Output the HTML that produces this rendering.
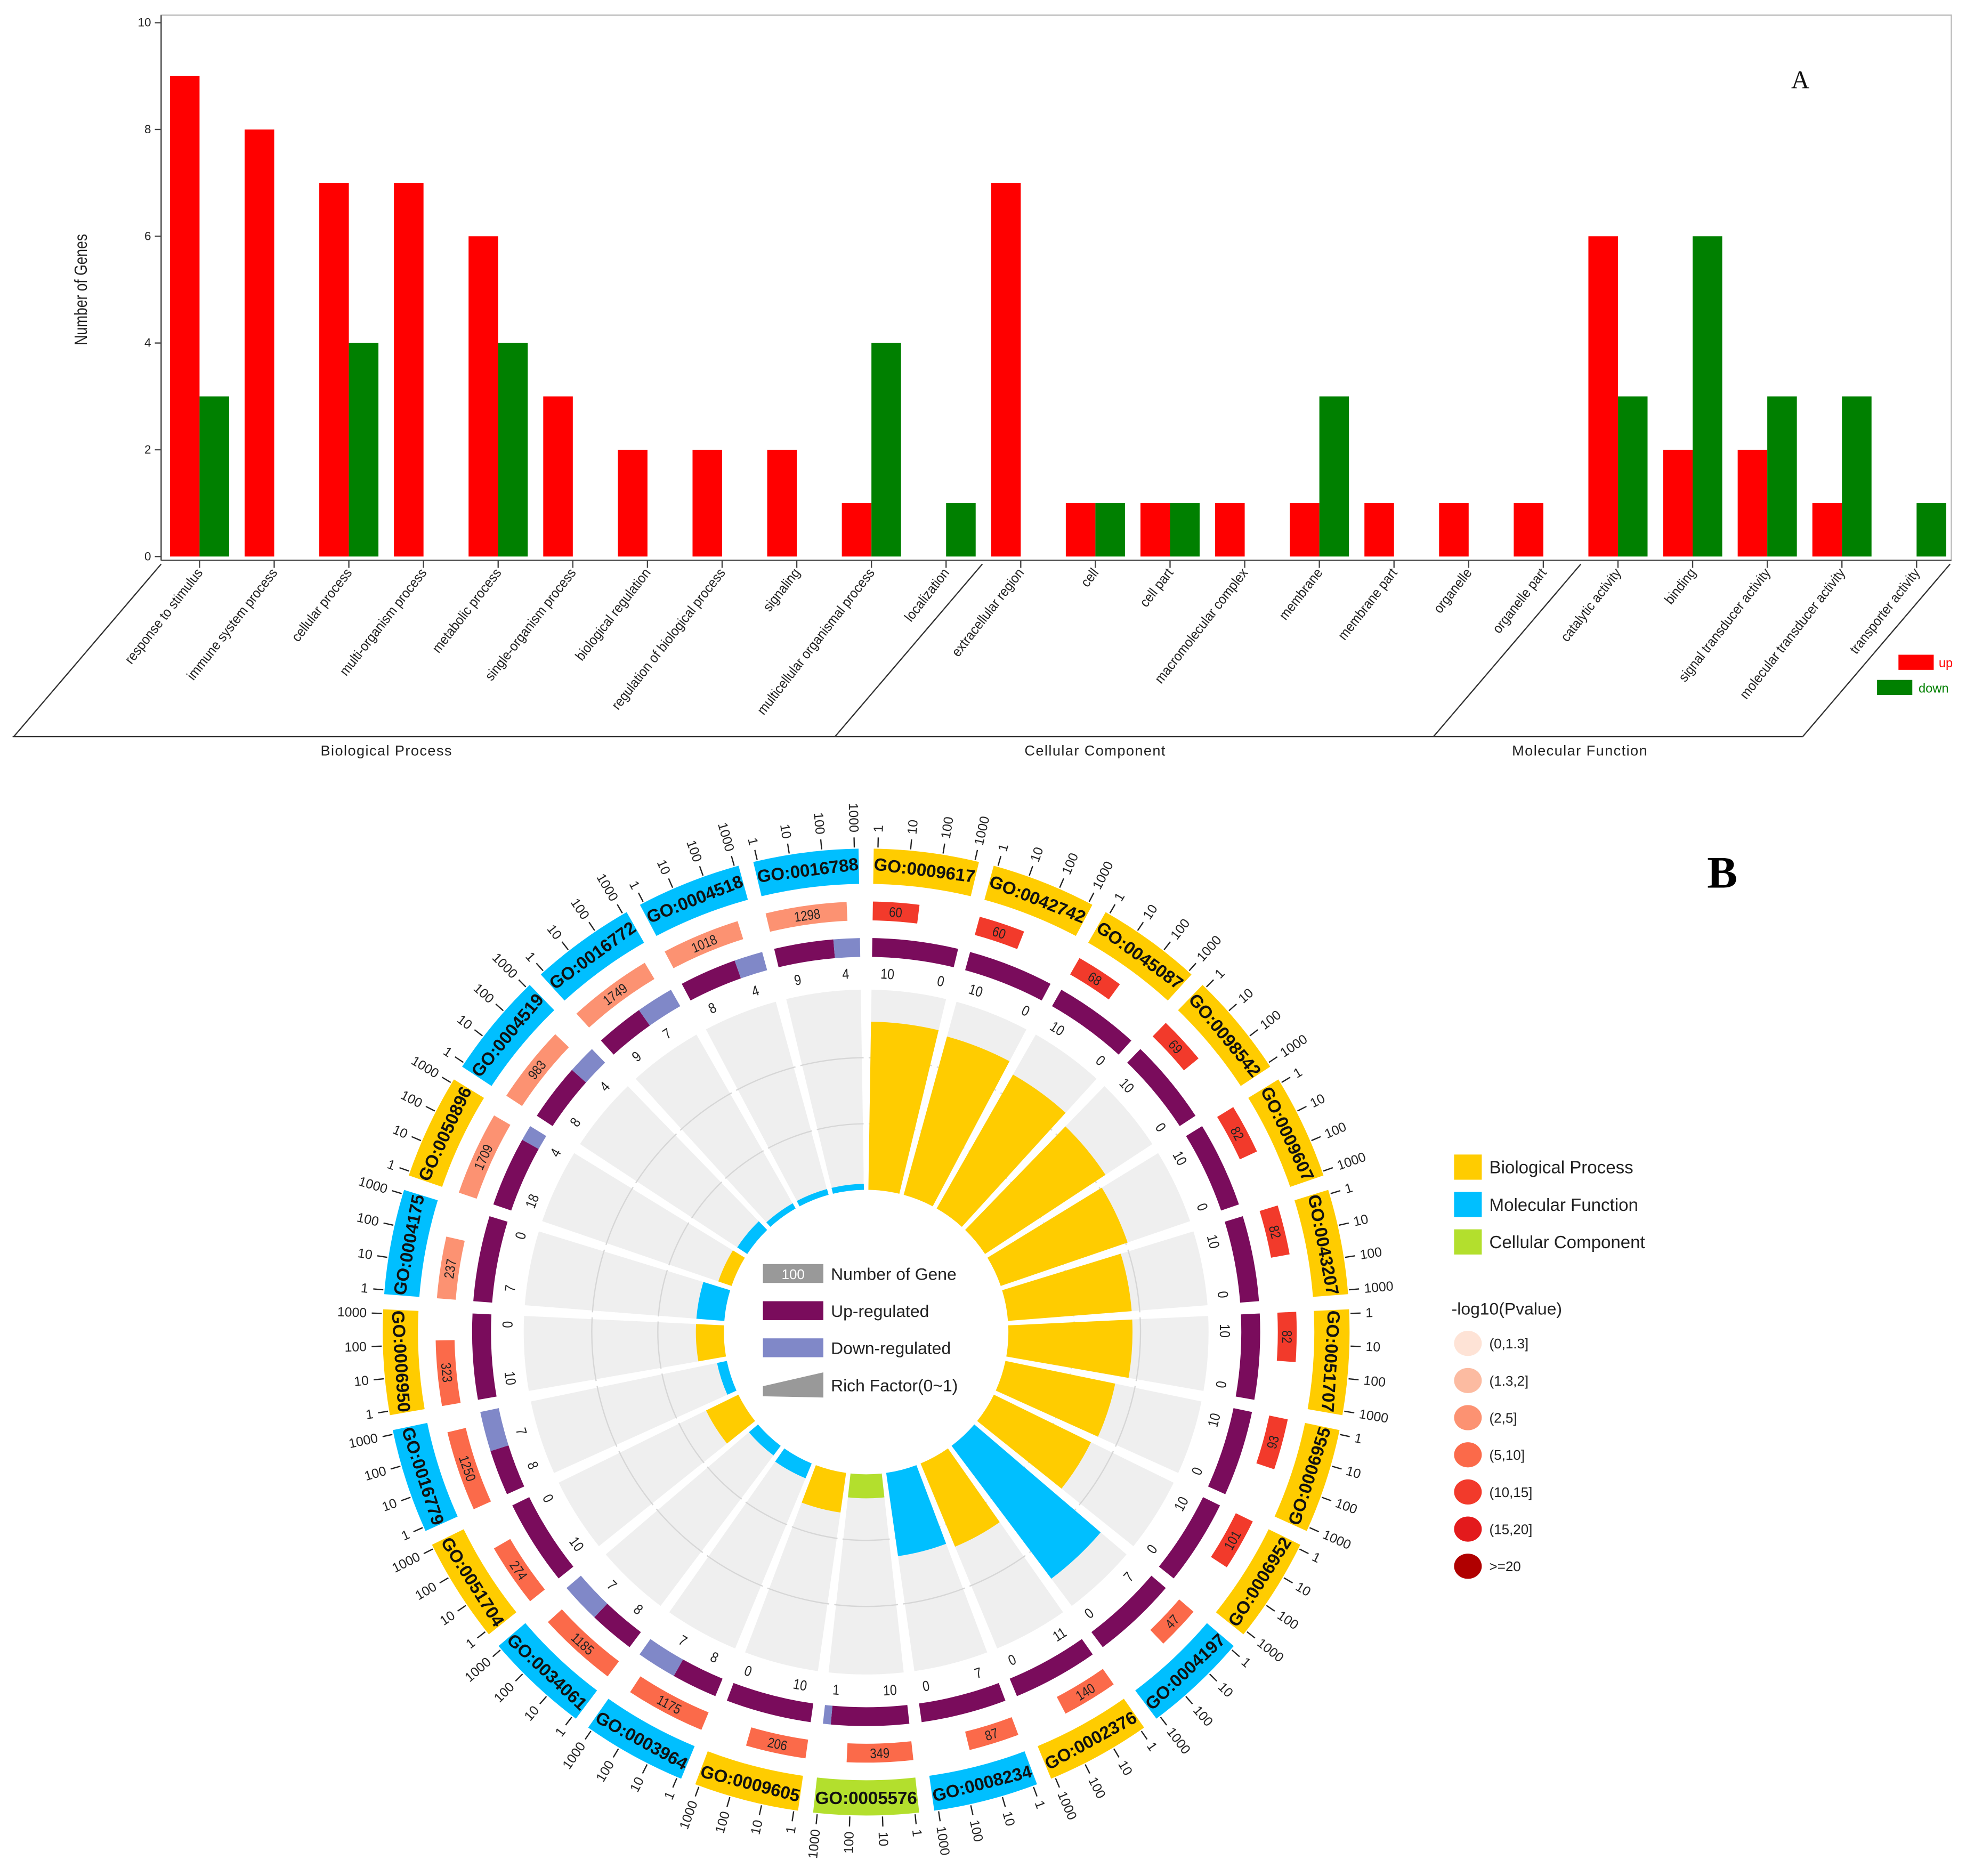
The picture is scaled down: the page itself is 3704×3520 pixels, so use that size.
<!DOCTYPE html>
<html><head><meta charset="utf-8">
<style>
html,body{margin:0;padding:0;background:#fff;}
svg{display:block;font-family:"Liberation Sans",sans-serif;}
</style></head>
<body>
<svg id="fig" width="3704" height="3520" viewBox="0 0 1568 1490" xmlns="http://www.w3.org/2000/svg">
<rect x="0" y="0" width="1568" height="1490" fill="#fff"/>
<g id="barchart"></g>
<g id="circos"></g>
</svg>
<script>
// ---------- Bar chart A data ----------
const categories = ["response to stimulus","immune system process","cellular process","multi-organism process","metabolic process","single-organism process","biological regulation","regulation of biological process","signaling","multicellular organismal process","localization","extracellular region","cell","cell part","macromolecular complex","membrane","membrane part","organelle","organelle part","catalytic activity","binding","signal transducer activity","molecular transducer activity","transporter activity"];
const upValues = [9,8,7,7,6,3,2,2,2,1,0,7,1,1,1,1,1,1,1,6,2,2,1,0];
const downValues = [3,0,4,0,4,0,0,0,0,4,1,0,1,1,0,3,0,0,0,3,6,3,3,1];
const yTicks = [0,2,4,6,8,10];
const groupNames = ["Biological Process","Cellular Component","Molecular Function"];
const groupStarts = [0,11,19];

// ---------- Circular chart B data ----------
const goIds = ["GO:0009617","GO:0042742","GO:0045087","GO:0098542","GO:0009607","GO:0043207","GO:0051707","GO:0006955","GO:0006952","GO:0004197","GO:0002376","GO:0008234","GO:0005576","GO:0009605","GO:0003964","GO:0034061","GO:0051704","GO:0016779","GO:0006950","GO:0004175","GO:0050896","GO:0004519","GO:0016772","GO:0004518","GO:0016788"];
const goCategory = ["BP","BP","BP","BP","BP","BP","BP","BP","BP","MF","BP","MF","CC","BP","MF","MF","BP","MF","BP","MF","BP","MF","MF","MF","MF"];
const geneNumbers = [60,60,68,69,82,82,82,93,101,47,140,87,349,206,1175,1185,274,1250,323,237,1709,983,1749,1018,1298];
const pLevels = [4,4,4,4,4,4,4,4,4,3,3,3,3,3,3,3,3,3,3,2,2,2,2,2,2];
const upCounts = [10,10,10,10,10,10,10,10,10,7,11,7,10,10,8,8,10,8,10,7,18,8,9,8,9];
const downCounts = [0,0,0,0,0,0,0,0,0,0,0,0,1,0,7,7,0,7,0,0,4,4,7,4,4];
const richFactor = [0.84,0.82,0.77,0.72,0.67,0.62,0.62,0.56,0.54,0.83,0.45,0.42,0.12,0.2,0.08,0.06,0.18,0.05,0.14,0.14,0.07,0.06,0.03,0.03,0.03];
const scaleTicks = [1,10,100,1000];
const pLegendLabels = ["(0,1.3]","(1.3,2]","(2,5]","(5,10]","(10,15]","(15,20]",">=20"];

const NS="http://www.w3.org/2000/svg";
function mk(parent, tag, attrs, text){
  const e=document.createElementNS(NS,tag);
  for(const k in attrs) e.setAttribute(k,attrs[k]);
  if(text!==undefined) e.textContent=text;
  parent.appendChild(e);
  return e;
}

// ================= BAR CHART =================
(function(){
  const g=document.getElementById('barchart');
  const left=128, right=1550, top=12, base=442;
  const yScale=v=>base-v*42.4;
  const step=59.3, x0=135, bw=23.5;
  const xRed=i=>x0+i*step;
  let e;
  e=mk(g,'rect',{x:left,y:top,width:right-left,height:base+3-top,fill:'none',stroke:'#bbb','stroke-width':1});
  
  
  e=mk(g,'line',{x1:left,y1:top,x2:left,y2:base+3,stroke:'#444','stroke-width':1});
  
  
  e=mk(g,'line',{x1:left,y1:base+3,x2:right,y2:base+3,stroke:'#444','stroke-width':1});
  
  
  yTicks.forEach(t=>{
    const y=yScale(t);
    e=mk(g,'line',{x1:left-5,y1:y,x2:left,y2:y,stroke:'#444','stroke-width':1});
    
    
    e=mk(g,'text',{x:left-8,y:y+3,'font-size':9.5,'text-anchor':'end',fill:'#222'},String(t));
    
    
  });
  e=mk(g,'text',{x:0,y:0,'font-size':14,'text-anchor':'middle',fill:'#222',transform:'translate(69,230) rotate(-90) scale(0.8,1)'},'Number of Genes');
  
  
  categories.forEach((c,i)=>{
    const xr=xRed(i);
    if(upValues[i]>0){
      e=mk(g,'rect',{x:xr,y:yScale(upValues[i]),width:bw,height:upValues[i]*42.4,fill:'#ff0000'});
      
      
    }
    if(downValues[i]>0){
      e=mk(g,'rect',{x:xr+bw,y:yScale(downValues[i]),width:bw,height:downValues[i]*42.4,fill:'#008000'});
      
      
    }
    const tx=xr+bw;
    e=mk(g,'line',{x1:tx,y1:base+3,x2:tx,y2:base+9,stroke:'#444','stroke-width':1});
    
    
    e=mk(g,'text',{x:0,y:0,'font-size':11,'text-anchor':'end',fill:'#222',transform:`translate(${tx+3},${base+13}) rotate(-52) scale(0.92,1)`},c);
    
    
  });
  const by=585, dx=117, dy=137;
  e=mk(g,'line',{x1:10,y1:by,x2:1432,y2:by,stroke:'#333','stroke-width':1});
  
  
  const seps=[left, xRed(groupStarts[1])-7, xRed(groupStarts[2])-6, right-1];
  seps.forEach(sx=>{
    e=mk(g,'line',{x1:sx,y1:by-dy,x2:sx-dx,y2:by,stroke:'#333','stroke-width':1});
    
    
  });
  const glx=[307,870,1255];
  groupNames.forEach((n,i)=>{
    e=mk(g,'text',{x:glx[i],y:600,'font-size':11.5,'text-anchor':'middle',fill:'#222','letter-spacing':'0.6'},n);
    
    
  });
  e=mk(g,'text',{x:1430,y:70,'font-size':20,'text-anchor':'middle',fill:'#111','font-family':'Liberation Serif, serif'},'A');
  
  
  e=mk(g,'rect',{x:1508,y:520,width:28,height:12,fill:'#ff0000'});
  
  
  e=mk(g,'text',{x:1540,y:530,'font-size':10,fill:'#ff0000'},'up');
  
  
  e=mk(g,'rect',{x:1491,y:540,width:28,height:12,fill:'#008000'});
  
  
  e=mk(g,'text',{x:1524,y:550,'font-size':10,fill:'#008000'},'down');
  
  
})();

// ================= CIRCULAR CHART =================
(function(){
  const g=document.getElementById('circos');
  const cx=688, cy=1058;
  const N=goIds.length, span=360/N;
  const catColor={BP:'#ffcc00',MF:'#00bfff',CC:'#b3df2d'};
  const pColors=['#fee3d6','#fcbba1','#fc9272','#fb6a4a','#f23a2b','#e31a1c','#b00000'];
  const R_IN=113, R_BG=272;
  const rad=a=>a*Math.PI/180;
  const pt=(r,a)=>[cx+r*Math.sin(rad(a)), cy-r*Math.cos(rad(a))];
  function arc(r0,r1,a0,a1){
    const [x0,y0]=pt(r1,a0),[x1,y1]=pt(r1,a1),[x2,y2]=pt(r0,a1),[x3,y3]=pt(r0,a0);
    const lg=(a1-a0)>180?1:0;
    return `M${x0},${y0}A${r1},${r1} 0 ${lg} 1 ${x1},${y1}L${x2},${y2}A${r0},${r0} 0 ${lg} 0 ${x3},${y3}Z`;
  }
  function tangRot(a){ let r=a; if(r>95&&r<=270) r-=180; else if(r>270) r-=360; return r; }
  let e;
  for(let i=0;i<N;i++){
    const a0=i*span+0.9, a1=(i+1)*span-0.9;
    e=mk(g,'path',{d:arc(R_IN,R_BG,a0,a1),fill:'#efefef'});
    
    
  }
  [0.33,0.66].forEach(f=>{
    e=mk(g,'circle',{cx:cx,cy:cy,r:R_IN+f*(R_BG-R_IN),fill:'none',stroke:'#d6d6d6','stroke-width':1});
    
    
  });
  for(let i=0;i<N;i++){
    const [x1,y1]=pt(R_IN-2,i*span),[x2,y2]=pt(R_BG+2,i*span);
    e=mk(g,'line',{x1:x1,y1:y1,x2:x2,y2:y2,stroke:'#fff','stroke-width':4});
    
    
  }
  for(let i=0;i<N;i++){
    const s=i*span, a0=s+0.9, a1=s+span-0.9, w=a1-a0, mid=s+span/2;
    const col=catColor[goCategory[i]];
    e=mk(g,'path',{d:arc(R_IN,R_IN+richFactor[i]*(R_BG-R_IN),a0,a1),fill:col});
    
    
    const tot=upCounts[i]+downCounts[i];
    const ab=a0+w*upCounts[i]/tot;
    e=mk(g,'path',{d:arc(298,313,a0,ab),fill:'#7a0c5c'});
    
    
    if(downCounts[i]>0){
      e=mk(g,'path',{d:arc(298,313,ab,a1),fill:'#8088c8'});
      
      
    }
    const lbl=(txt,a,name)=>{
      const [x,y]=pt(285,a);
      const t=mk(g,'text',{x:0,y:0,'font-size':11.5,'text-anchor':'middle',fill:'#222',transform:`translate(${x},${y}) rotate(${tangRot(a)}) translate(0,4) scale(0.85,1)`},txt);
      
      
    };
    lbl(String(upCounts[i]),a0+2.5,'up-count-label');
    lbl(String(downCounts[i]),Math.min(ab+1.5,a1-1.5),'down-count-label');
    const frac=Math.min(0.95,Math.log10(geneNumbers[i])/3.6);
    const bEnd=a0+w*frac;
    e=mk(g,'path',{d:arc(327,342,a0,bEnd),fill:pColors[pLevels[i]]});
    
    
    const bm=(a0+bEnd)/2; const [bx,by]=pt(334.5,bm);
    e=mk(g,'text',{x:0,y:0,'font-size':11,'text-anchor':'middle',fill:'#222',transform:`translate(${bx},${by}) rotate(${tangRot(bm)}) translate(0,4) scale(0.85,1)`},String(geneNumbers[i]));
    
    
    e=mk(g,'path',{d:arc(356,384,a0,a1),fill:col});
    
    
    const [gx,gy]=pt(370,mid);
    e=mk(g,'text',{x:0,y:0,'font-size':14,'font-weight':'bold','text-anchor':'middle',fill:'#111',transform:`translate(${gx},${gy}) rotate(${tangRot(mid)}) translate(0,5)`},goIds[i]);
    
    
    scaleTicks.forEach(t=>{
      const a=a0+0.5+(w-1)*Math.log10(t)/3;
      const [x1,y1]=pt(385,a),[x2,y2]=pt(393,a);
      e=mk(g,'line',{x1:x1,y1:y1,x2:x2,y2:y2,stroke:'#222','stroke-width':1});
      
      
      const [lx,ly]=pt(397,a);
      const right=a<=180;
      const rot=right?a-90:a-270;
      e=mk(g,'text',{x:0,y:0,'font-size':10.5,'text-anchor':right?'start':'end',fill:'#222',transform:`translate(${lx},${ly}) rotate(${rot}) translate(0,3.5)`},String(t));
      
      
    });
  }
  const L=[['#999','100','Number of Gene'],['#7a0c5c','','Up-regulated'],['#8088c8','','Down-regulated']];
  L.forEach((r,k)=>{
    const y=1004+k*29.5;
    e=mk(g,'rect',{x:606,y:y,width:48,height:15,fill:r[0]});
    
    
    if(r[1]){
      e=mk(g,'text',{x:630,y:y+12,'font-size':11,'text-anchor':'middle',fill:'#fff'},r[1]);
      
      
    }
    e=mk(g,'text',{x:660,y:y+12.5,'font-size':13.5,fill:'#222'},r[2]);
    
    
  });
  e=mk(g,'polygon',{points:'606,1101 654,1090 654,1110 606,1109',fill:'#999'});
  
  
  e=mk(g,'text',{x:660,y:1105,'font-size':13.5,fill:'#222'},'Rich Factor(0~1)');
  
  
  const cats=[['#ffcc00','Biological Process'],['#00bfff','Molecular Function'],['#b3df2d','Cellular Component']];
  cats.forEach((c,k)=>{
    const y=917+k*29.7;
    e=mk(g,'rect',{x:1155,y:y,width:22,height:20,fill:c[0]});
    
    
    e=mk(g,'text',{x:1183,y:y+15,'font-size':14,fill:'#222'},c[1]);
    
    
  });
  e=mk(g,'text',{x:1153,y:1044,'font-size':13.5,fill:'#222'},'-log10(Pvalue)');
  
  
  pLegendLabels.forEach((l,k)=>{
    const y=1067+k*29.5;
    e=mk(g,'ellipse',{cx:1166,cy:y,rx:11,ry:10,fill:pColors[k]});
    
    
    e=mk(g,'text',{x:1183,y:y+4,'font-size':11,fill:'#222'},l);
    
    
  });
  e=mk(g,'text',{x:1368,y:705,'font-size':36,'font-weight':'bold','text-anchor':'middle',fill:'#000','font-family':'Liberation Serif, serif'},'B');
  
  
})();
</script>
</body></html>
